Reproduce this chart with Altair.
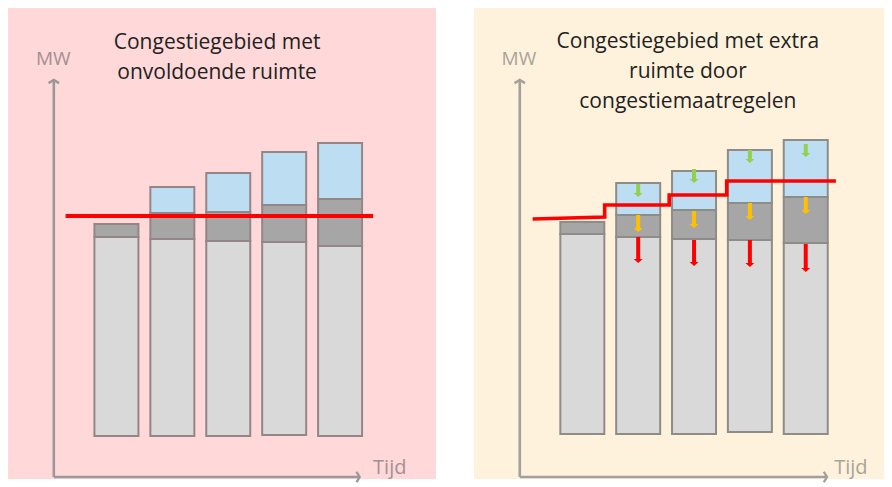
import altair as alt
import pandas as pd

# ---------------- data (time periods, MW values) ----------------
periods = [1, 2, 3, 4, 5]
segment_kinds = ["basis", "flex", "extra"]
segment_colors = ["#D9D9D9", "#A6A6A6", "#BDDDF2"]

# left panel: "Congestiegebied met onvoldoende ruimte"
left_base = [10.25, 10.25, 10.25, 10.5, 10.25]
left_light_top = [60.0, 59.5, 59.0, 58.75, 57.75]
left_dark_top = [63.25, 66.0, 66.25, 68.0, 69.5]
left_blue_top = [None, 72.5, 76.0, 81.25, 83.5]
left_cap_t = [0.09, 5.59]
left_cap_mw = [65.25, 65.25]

# right panel: "Congestiegebied met extra ruimte door congestiemaatregelen"
right_base = [10.75, 10.75, 10.75, 11.25, 10.75]
right_light_top = [60.75, 60.0, 59.5, 59.25, 58.5]
right_dark_top = [63.75, 65.5, 66.75, 68.5, 70.0]
right_blue_top = [None, 73.5, 76.5, 81.75, 84.25]
right_cap_t = [0.11, 1.40, 1.40, 2.555, 2.555, 3.585, 3.585, 5.54]
right_cap_mw = [64.5, 65.0, 68.0, 68.0, 70.5, 70.5, 74.0, 74.0]

arrow_periods = [2, 3, 4, 5]
green_from = [73.25, 77.0, 81.75, 83.25]
green_to = [70.0, 73.5, 78.5, 80.0]
orange_from = [65.5, 66.5, 68.5, 70.0]
orange_to = [61.25, 62.25, 64.25, 65.75]
red_from = [60.0, 59.25, 59.25, 58.25]
red_to = [53.5, 52.75, 52.5, 51.25]

left_title = ["Congestiegebied met", "onvoldoende ruimte"]
right_title = ["Congestiegebied met extra", "ruimte door", "congestiemaatregelen"]
y_label = "MW"
x_label = "Tijd"

# ---------------- layout / style ----------------
PX_PER_T = 57.25
PX_PER_MW = 4.0
H = 471
T_MIN = -0.85
MW_TOP = 117.25
AXIS_T = -0.12
AXIS_TOP = 99.25
HEAD_LEN = 0.9


def segments(base, light, dark, blue):
    rows = []
    for i, p in enumerate(periods):
        rows.append(dict(t=p, y0=base[i], y1=light[i], kind="basis"))
        rows.append(dict(t=p, y0=light[i], y1=dark[i], kind="flex"))
        if blue[i] is not None:
            rows.append(dict(t=p, y0=dark[i], y1=blue[i], kind="extra"))
    return pd.DataFrame(rows)


def panel(W, bg, title_lines, title_t, title_mw0, seg_df, cap_t, cap_mw,
          xaxis_end, tijd_t, mw_t, text_col, axis_col, bar_stroke, cap_width, arrows=None):
    xs = alt.Scale(domain=[T_MIN, T_MIN + W / PX_PER_T], nice=False, zero=False)
    ys = alt.Scale(domain=[MW_TOP - H / PX_PER_MW, MW_TOP], nice=False, zero=False)
    X = lambda f: alt.X(f, type="quantitative", scale=xs, axis=None)
    Y = lambda f: alt.Y(f, type="quantitative", scale=ys, axis=None)

    bars = alt.Chart(seg_df).mark_bar(size=44, stroke=bar_stroke, strokeWidth=2).encode(
        x=X("t"), y=Y("y0"), y2="y1",
        color=alt.Color("kind:N", scale=alt.Scale(domain=segment_kinds, range=segment_colors), legend=None),
    )

    cap = alt.Chart(pd.DataFrame({"t": cap_t, "mw": cap_mw, "o": range(len(cap_t))})).mark_line(
        color="#FF0000", strokeWidth=cap_width, strokeJoin="miter").encode(
        x=X("t"), y=Y("mw"), order="o:Q")

    ax_df = pd.DataFrame({"t": [AXIS_T, AXIS_T], "y0": [0, 0], "t2": [AXIS_T, xaxis_end], "y1": [AXIS_TOP, 0]})
    axes = alt.Chart(ax_df).mark_rule(color=axis_col, strokeWidth=2.6).encode(
        x=X("t"), y=Y("y0"), x2="t2", y2="y1")
    up_head = alt.Chart(pd.DataFrame({"t": [AXIS_T], "mw": [AXIS_TOP]})).mark_point(
        shape="M-1,0.6L0,0L1,0.6", size=110, stroke=axis_col, strokeWidth=2.4, filled=False, opacity=1).encode(
        x=X("t"), y=Y("mw"))
    right_head = alt.Chart(pd.DataFrame({"t": [xaxis_end], "mw": [0]})).mark_point(
        shape="M-0.6,-1L0,0L-0.6,1", size=110, stroke=axis_col, strokeWidth=2.4, filled=False, opacity=1).encode(
        x=X("t"), y=Y("mw"))

    labels = alt.Chart(pd.DataFrame({"t": [mw_t], "mw": [104.5], "txt": [y_label]})).mark_text(
        font="Open Sans", fontSize=19, color=text_col, align="center", baseline="middle").encode(
        x=X("t"), y=Y("mw"), text="txt:N")
    tijd = alt.Chart(pd.DataFrame({"t": [tijd_t], "mw": [0.75], "txt": [x_label]})).mark_text(
        font="Open Sans", fontSize=20, color=text_col, align="left", baseline="alphabetic", clip=True).encode(
        x=X("t"), y=Y("mw"), text="txt:N")

    tdf = pd.DataFrame({"t": [title_t] * len(title_lines),
                        "mw": [title_mw0 - 7.5 * i for i in range(len(title_lines))],
                        "txt": title_lines})
    title = alt.Chart(tdf).mark_text(font="Open Sans", fontSize=21, color="#222222",
                                     align="center", baseline="middle").encode(
        x=X("t"), y=Y("mw"), text="txt:N")

    layers = [bars, cap, axes, up_head, right_head, labels, tijd, title]

    if arrows is not None:
        adf = arrows.copy()
        adf["shaft_end"] = adf["to"] + HEAD_LEN
        shafts = alt.Chart(adf).mark_rule(strokeWidth=4).encode(
            x=X("t"), y=Y("frm"), y2="shaft_end", color=alt.Color("col:N", scale=None))
        heads = alt.Chart(adf).mark_point(shape="M-1,-0.9L1,-0.9L0,0Z", size=81, filled=True,
                                          opacity=1, strokeWidth=0).encode(
            x=X("t"), y=Y("to"), color=alt.Color("col:N", scale=None))
        layers += [shafts, heads]

    return alt.layer(*layers).properties(
        width=W, height=H, view=alt.ViewBackground(fill=bg, stroke=None))


arrow_rows = []
for i, p in enumerate(arrow_periods):
    arrow_rows.append(dict(t=p, frm=green_from[i], to=green_to[i], col="#92D050"))
    arrow_rows.append(dict(t=p, frm=orange_from[i], to=orange_to[i], col="#FFC000"))
    arrow_rows.append(dict(t=p, frm=red_from[i], to=red_to[i], col="#FF0000"))
arrows_df = pd.DataFrame(arrow_rows)

left = panel(428, "#FFD9D9", left_title, 2.80, 108.5,
             segments(left_base, left_light_top, left_dark_top, left_blue_top),
             left_cap_t, left_cap_mw, 5.35, 5.59, -0.13, "#A39090", "#9C9898", "#948686", 4)
right = panel(410, "#FFF2DC", right_title, 2.89, 108.75,
              segments(right_base, right_light_top, right_dark_top, right_blue_top),
              right_cap_t, right_cap_mw, 5.38, 5.51, -0.135, "#A8A49A", "#A3A09A", "#8E8C88", 3.6,
              arrows=arrows_df)

chart = alt.hconcat(left, right, spacing=38).resolve_scale(
    x="independent", y="independent").properties(padding=0).configure_view(stroke=None)

chart.save("out.html", embed_options={"renderer": "svg", "actions": False})
